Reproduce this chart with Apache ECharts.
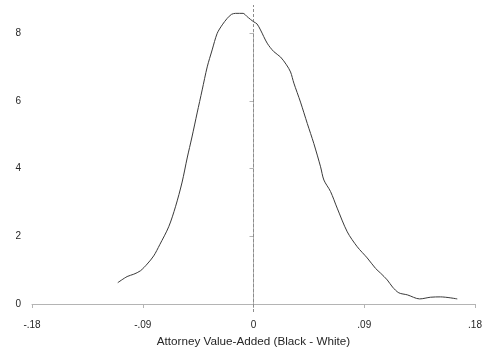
<!DOCTYPE html>
<html>
<head>
<meta charset="utf-8">
<script src="https://cdn.jsdelivr.net/npm/echarts@6/dist/echarts.min.js"></script>
<style>html,body{margin:0;padding:0;background:#fff}#c{width:482px;height:352px}</style>
</head>
<body>
<div id="c"></div>
<script>
// Kernel density estimate of attorney value-added (Black - White)
var densityX = [-0.1103,-0.1027,-0.0973,-0.0919,-0.0864,-0.0811,-0.0762,-0.0689,-0.0634,-0.0580,-0.0539,-0.0500,-0.0458,-0.0417,-0.0376,-0.0336,-0.0295,-0.0254,-0.0214,-0.0179,-0.0146,-0.0084,-0.0057,-0.0024,0.0002,0.0028,0.0057,0.0111,0.0165,0.0220,0.0268,0.0301,0.0328,0.0382,0.0437,0.0490,0.0545,0.0572,0.0626,0.0680,0.0762,0.0843,0.0924,0.0992,0.1033,0.1087,0.1130,0.1181,0.1250,0.1350,0.1439,0.1520,0.1656];
var densityY = [0.63,0.81,0.88,0.98,1.18,1.42,1.75,2.28,2.87,3.60,4.31,4.93,5.64,6.32,7.00,7.50,7.99,8.24,8.43,8.55,8.58,8.58,8.50,8.40,8.33,8.27,8.09,7.70,7.45,7.29,7.06,6.85,6.52,5.96,5.33,4.74,4.05,3.66,3.32,2.83,2.13,1.69,1.36,1.05,0.91,0.71,0.50,0.33,0.27,0.15,0.20,0.21,0.15];
var xTicks = [-0.18,-0.09,0,0.09,0.18];
var yTicks = [0,2,4,6,8];
var refLineX = 0;
var xTitle = 'Attorney Value-Added (Black - White)';

var pts = densityX.map(function(x,i){return [x, densityY[i]];});
function fmt(v){
  var s = (Math.round(v*100)/100).toFixed(2);
  if (Math.abs(v) < 1e-9) return '0';
  return s.replace('0.', '.');
}
var axisCol = '#b4b4b4';
var txtCol = '#262626';
var chart = echarts.init(document.getElementById('c'), null, {renderer:'canvas'});
chart.setOption({
  animation:false,
  backgroundColor:'#fff',
  grid:[
    {left:32, right:7, top:33, bottom:48, containLabel:false, outerBoundsMode:'none'},
    {left:32, right:7, top:5, bottom:40, containLabel:false, outerBoundsMode:'none'}
  ],
  xAxis:[
    {gridIndex:0, type:'value', min:xTicks[0], max:xTicks[xTicks.length-1], interval:0.09, offset:8,
     name:xTitle, nameLocation:'middle', nameGap:24,
     nameTextStyle:{fontFamily:'Liberation Sans, Arial, sans-serif', fontSize:11.7, color:txtCol},
     axisLine:{show:true, lineStyle:{color:axisCol, width:1}},
     axisTick:{show:true, length:4, lineStyle:{color:axisCol}},
     axisLabel:{fontFamily:'Liberation Sans, Arial, sans-serif', fontSize:10, color:txtCol, margin:8, formatter:fmt},
     splitLine:{show:false}},
    {gridIndex:1, type:'value', min:xTicks[0], max:xTicks[xTicks.length-1], show:false}
  ],
  yAxis:[
    {gridIndex:0, type:'value', min:yTicks[0], max:yTicks[yTicks.length-1], interval:2, offset:7,
     axisLine:{show:true, lineStyle:{color:axisCol, width:1}},
     axisTick:{show:true, length:4, lineStyle:{color:axisCol}},
     axisLabel:{fontFamily:'Liberation Sans, Arial, sans-serif', fontSize:10, color:txtCol, margin:4},
     splitLine:{show:false}},
    {gridIndex:1, type:'value', min:0, max:1, show:false}
  ],
  series:[
    {type:'line', xAxisIndex:1, yAxisIndex:1, data:[[refLineX,0],[refLineX,1]], symbol:'none',
     lineStyle:{color:'#8c8c8c', width:1, type:[3,2]}, silent:true},
    {type:'line', xAxisIndex:0, yAxisIndex:0, data:pts, symbol:'none', smooth:0.3, clip:false,
     lineStyle:{color:'#3a3a3a', width:1}}
  ]
});
</script>
</body>
</html>
